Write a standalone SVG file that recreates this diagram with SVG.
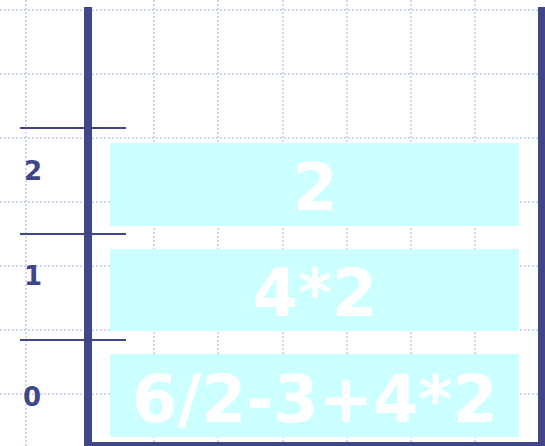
<svg xmlns="http://www.w3.org/2000/svg" width="545" height="446" viewBox="0 0 545 446">
<style>
.grid line{stroke:#cfd7f6;stroke-width:2;stroke-dasharray:2 2}
.axis{fill:#414688}
.tick{stroke:#414688;stroke-width:2}
.box{fill:#ccffff}
.big{font-family:"DejaVu Sans",Verdana,sans-serif;font-weight:bold;font-size:65px;fill:#ffffff;text-anchor:middle}
.lbl{font-family:"DejaVu Sans",Verdana,sans-serif;font-weight:bold;font-size:26px;fill:#414688}
</style>
<rect width="545" height="446" fill="#ffffff"/>
<g class="grid" id="grid">
<line x1="0" y1="10" x2="545" y2="10"/>
<line x1="0" y1="74" x2="545" y2="74"/>
<line x1="0" y1="138" x2="545" y2="138"/>
<line x1="0" y1="202" x2="545" y2="202"/>
<line x1="0" y1="266" x2="545" y2="266"/>
<line x1="0" y1="330" x2="545" y2="330"/>
<line x1="0" y1="394" x2="545" y2="394"/>
<line x1="26" y1="0" x2="26" y2="446"/>
<line x1="154" y1="0" x2="154" y2="446"/>
<line x1="218" y1="0" x2="218" y2="446"/>
<line x1="283" y1="0" x2="283" y2="446"/>
<line x1="347" y1="0" x2="347" y2="446"/>
<line x1="411" y1="0" x2="411" y2="446"/>
<line x1="475" y1="0" x2="475" y2="446"/>
</g>
<g id="connectors">
<line class="tick" x1="20" y1="128" x2="126" y2="128"/>
<line class="tick" x1="20" y1="234" x2="126" y2="234"/>
<line class="tick" x1="20" y1="340" x2="126" y2="340"/>
<rect class="axis" x="84" y="7" width="8" height="439"/>
<rect class="axis" x="538" y="7" width="8" height="439"/>
<rect class="axis" x="84" y="442" width="462" height="4"/>
</g>
<g id="frame2">
<rect class="box" x="110" y="143" width="409" height="83"/>
<text class="big" x="315" y="210">2</text>
</g>
<g id="frame1">
<rect class="box" x="110" y="249" width="409" height="82"/>
<text class="big" x="315" y="316">4*2</text>
</g>
<g id="frame0">
<rect class="box" x="110" y="354" width="409" height="83"/>
<text class="big" x="315" y="422">6/2-3+4*2</text>
</g>
<g id="labels">
<text class="lbl" x="24" y="180">2</text>
<text class="lbl" x="24" y="285">1</text>
<text class="lbl" x="23" y="406">0</text>
</g>
</svg>
